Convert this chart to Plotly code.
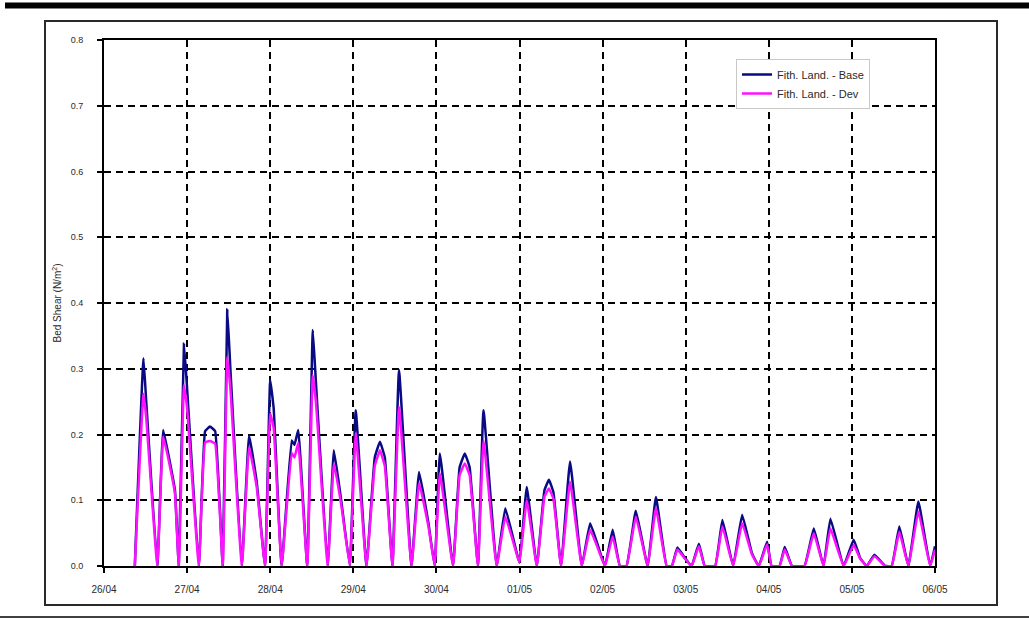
import pandas as pd
import plotly.graph_objects as go

# Hours after 26/04 00:00 and bed shear (N/m2) for the two scenarios
hours = [8.9, 11.4, 12.2, 15.4, 17.1, 19.1, 20.5, 21.6, 23.1, 24.0, 27.4,
         29.2, 30.6, 32.1, 34.3, 35.6, 36.5, 39.8, 41.9, 44.1, 46.5, 48.0, 49.0,
         51.3, 54.2, 55.0, 56.1, 58.7, 60.3, 61.2, 64.6, 66.4, 68.6, 71.0, 72.7,
         75.8, 78.2, 79.7, 81.1, 83.3, 85.2, 88.8, 91.0, 93.7, 95.5, 97.0, 100.8,
         102.7, 104.2, 105.6, 108.0, 109.6, 113.4, 115.9, 119.2, 120.0, 122.1,
         125.0, 127.2, 128.5, 129.8, 132.0, 134.6, 138.0, 140.4, 143.7, 144.7,
         146.9, 149.0, 150.9, 153.6, 157.0, 159.4, 162.5, 164.0, 165.6, 167.8,
         169.7, 171.8, 173.5, 176.5, 178.6, 181.7, 184.3, 187.1, 189.1, 191.5,
         192.8, 195.1, 196.6, 198.7, 202.3, 205.0, 207.8, 209.8, 213.6, 216.5,
         218.4, 220.3, 222.5, 225.6, 227.5, 229.7, 232.3, 235.2, 238.6, 240.0]

base = [0, 0.316, 0.25, 0, 0.207, 0.156, 0.115, 0, 0.338, 0.27, 0,
        0.205, 0.212, 0.205, 0, 0.390, 0.30, 0, 0.199, 0.128, 0, 0.283, 0.24,
        0, 0.191, 0.184, 0.207, 0, 0.359, 0.28, 0, 0.176, 0.096, 0, 0.237,
        0, 0.165, 0.189, 0.165, 0, 0.298, 0, 0.143, 0.065, 0, 0.171, 0,
        0.150, 0.171, 0.150, 0, 0.237, 0, 0.088, 0.020, 0.005, 0.120,
        0, 0.115, 0.131, 0.112, 0, 0.159, 0, 0.065, 0.014, 0,
        0.055, 0, 0, 0.084, 0, 0.105, 0, 0, 0.028, 0.012,
        0, 0.034, 0, 0, 0.070, 0, 0.078, 0.020, 0, 0.037,
        0, 0, 0.029, 0, 0, 0.057, 0, 0.072, 0, 0.040,
        0.012, 0, 0.017, 0, 0, 0.060, 0, 0.098, 0, 0.030]

dev = [0, 0.262, 0.225, 0, 0.197, 0.150, 0.110, 0, 0.275, 0.24, 0,
       0.188, 0.190, 0.186, 0, 0.318, 0.27, 0, 0.181, 0.120, 0, 0.232, 0.21,
       0, 0.172, 0.165, 0.187, 0, 0.290, 0.25, 0, 0.156, 0.090, 0, 0.202,
       0, 0.152, 0.176, 0.152, 0, 0.242, 0, 0.126, 0.060, 0, 0.141, 0,
       0.138, 0.156, 0.138, 0, 0.191, 0, 0.075, 0.018, 0.005, 0.100,
       0, 0.105, 0.118, 0.102, 0, 0.128, 0, 0.055, 0.012, 0,
       0.045, 0, 0, 0.075, 0, 0.088, 0, 0, 0.025, 0.011,
       0, 0.030, 0, 0, 0.060, 0, 0.065, 0.018, 0, 0.033,
       0, 0, 0.025, 0, 0, 0.050, 0, 0.057, 0, 0.032,
       0.011, 0, 0.015, 0, 0, 0.052, 0, 0.083, 0, 0.025]

series_names = ["Fith. Land. - Base", "Fith. Land. - Dev"]
start = pd.Timestamp("2004-04-26 00:00")
end = pd.Timestamp("2004-05-06 00:00")
times = start + pd.to_timedelta(hours, unit="h")

FONT = "Arial, Liberation Sans, sans-serif"
TEXT = "#2a2a2a"

fig = go.Figure()
fig.add_trace(go.Scatter(x=times, y=base, mode="lines", name=series_names[0],
                         line=dict(color="#0a0a85", width=2.5,
                                   shape="spline", smoothing=0.3)))
fig.add_trace(go.Scatter(x=times, y=dev, mode="lines", name=series_names[1],
                         line=dict(color="#ff10ff", width=2.5,
                                   shape="spline", smoothing=0.3)))

# plot area in pixels: x 104..935, y 40..566
W, H = 1029, 621
L, R, T, B = 104, 935, 40, 566


def px(x):
    return (x - L) / (R - L)


def py(y):
    return (B - y) / (B - T)


shapes = [
    # heavy rule at the top of the page
    dict(type="line", xref="paper", yref="paper", x0=px(5), x1=px(1029),
         y0=py(5.5), y1=py(5.5), line=dict(color="black", width=6)),
    # thin rule at the bottom of the page
    dict(type="line", xref="paper", yref="paper", x0=px(0), x1=px(1029),
         y0=py(617), y1=py(617), line=dict(color="black", width=1.5)),
    # frame around the chart
    dict(type="rect", xref="paper", yref="paper", x0=px(45), x1=px(997),
         y0=py(605), y1=py(21), line=dict(color="#2a2a2a", width=2)),
]

fig.update_layout(
    width=W, height=H,
    margin=dict(l=L, r=W - R, t=T, b=H - B),
    paper_bgcolor="white", plot_bgcolor="white",
    font=dict(family=FONT, size=9, color=TEXT),
    shapes=shapes,
    showlegend=True,
    legend=dict(x=px(736), y=py(59), xanchor="left", yanchor="top",
                bgcolor="white", bordercolor="#c8c8c8", borderwidth=1,
                font=dict(family=FONT, size=11, color=TEXT),
                itemwidth=30, tracegroupgap=0),
)

fig.update_xaxes(
    type="date", range=[start, end], dtick=86400000, tickformat="%d/%m",
    tick0=start,
    showline=True, linecolor="black", linewidth=2, mirror=True,
    ticks="outside", ticklen=5, tickcolor="black", tickwidth=1.5,
    showgrid=True, gridcolor="black", gridwidth=1.7, griddash="7px,5px",
    zeroline=False, ticklabelstandoff=8,
    tickfont=dict(family=FONT, size=10, color=TEXT),
)
fig.update_yaxes(
    range=[0, 0.8], dtick=0.1, tickformat=".1f",
    showline=True, linecolor="black", linewidth=2, mirror=True,
    ticks="outside", ticklen=5, tickcolor="black", tickwidth=1.5,
    showgrid=True, gridcolor="black", gridwidth=1.7, griddash="7px,5px",
    zeroline=False, ticklabelstandoff=12,
    tickfont=dict(family=FONT, size=9, color=TEXT),
    title=dict(text="Bed Shear (N/m<sup>2</sup>)", standoff=7,
               font=dict(family=FONT, size=10, color=TEXT)),
)

fig.write_html("out.html")
